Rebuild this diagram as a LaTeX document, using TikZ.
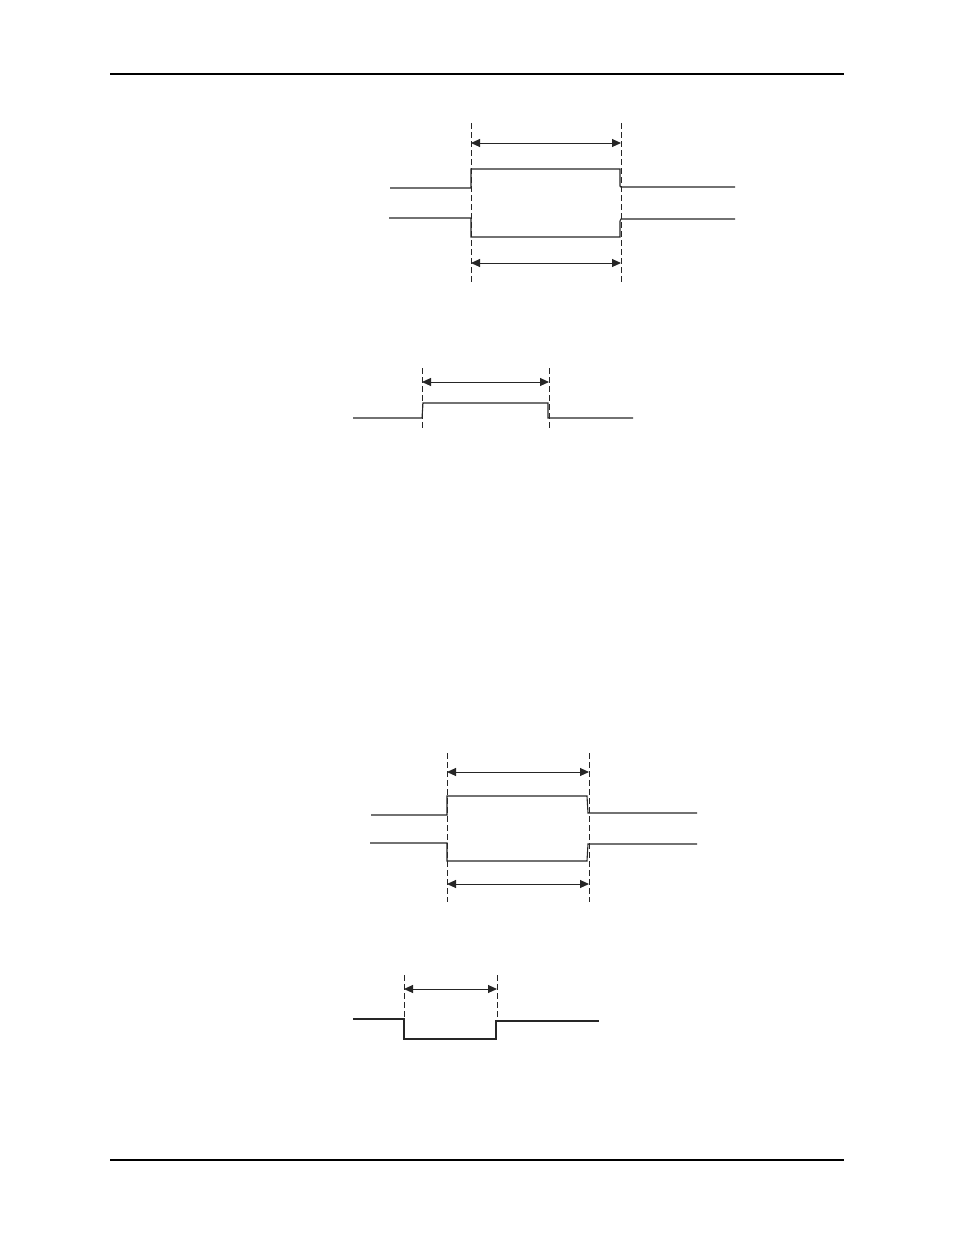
\documentclass[tikz,border=0pt]{standalone}
\usetikzlibrary{arrows.meta}
\begin{document}
\begin{tikzpicture}[x=1pt,y=-1pt,
  sig/.style={line width=1.1pt,black!85},
  guide/.style={line width=0.9pt,black!85,dash pattern=on 6pt off 3pt},
  dim/.style={line width=1pt,black!85,{Triangle[length=9pt,width=8pt]}-{Triangle[length=9pt,width=8pt]}},
  rule/.style={line width=1.4pt,black}]
\useasboundingbox (0,0) rectangle (954,1235);
% page rules
\draw[rule] (110,74) -- (844,74);
\draw[rule] (110,1160) -- (844,1160);

% ---------- diagram 1 ----------
\coordinate (a1) at (471,143); \coordinate (b1) at (621,143);
\coordinate (c1) at (471,263); \coordinate (d1) at (621,263);
\draw[guide] (471,123) -- (471,282);
\draw[guide] (621,123) -- (621,282);
\draw[dim] (a1) -- (b1);
\draw[dim] (c1) -- (d1);
\draw[sig] (390,188) -- (471,188) -- (471,169) -- (620,169) -- (620,186) -- (621,187) -- (735,187);
\draw[sig] (389,218) -- (471,218) -- (471,237) -- (620,237) -- (620,221) -- (621,219) -- (735,219);

% ---------- diagram 2 ----------
\coordinate (a2) at (422,382); \coordinate (b2) at (549,382);
\draw[guide] (422,368) -- (422,429);
\draw[guide] (549,368) -- (549,429);
\draw[dim] (a2) -- (b2);
\draw[sig] (353,418) -- (422,418) -- (423,403) -- (548,403) -- (548,418) -- (633,418);

% ---------- diagram 3 ----------
\coordinate (a3) at (447,772); \coordinate (b3) at (589,772);
\coordinate (c3) at (447,884); \coordinate (d3) at (589,884);
\draw[guide] (447,753) -- (447,902);
\draw[guide] (589,753) -- (589,902);
\draw[dim] (a3) -- (b3);
\draw[dim] (c3) -- (d3);
\draw[sig] (371,815) -- (447,815) -- (447,796) -- (587,796) -- (588,813) -- (697,813);
\draw[sig] (370,843) -- (447,843) -- (447,861) -- (587,861) -- (588,844) -- (697,844);

% ---------- diagram 4 ----------
\coordinate (a4) at (404,989); \coordinate (b4) at (497,989);
\draw[guide] (404,975) -- (404,1018);
\draw[guide] (497,975) -- (497,1018);
\draw[dim] (a4) -- (b4);
\draw[sig] (353,1019) -- (404,1019) -- (404,1039) -- (496,1039) -- (496,1021) -- (599,1021);
\end{tikzpicture}
\end{document}
